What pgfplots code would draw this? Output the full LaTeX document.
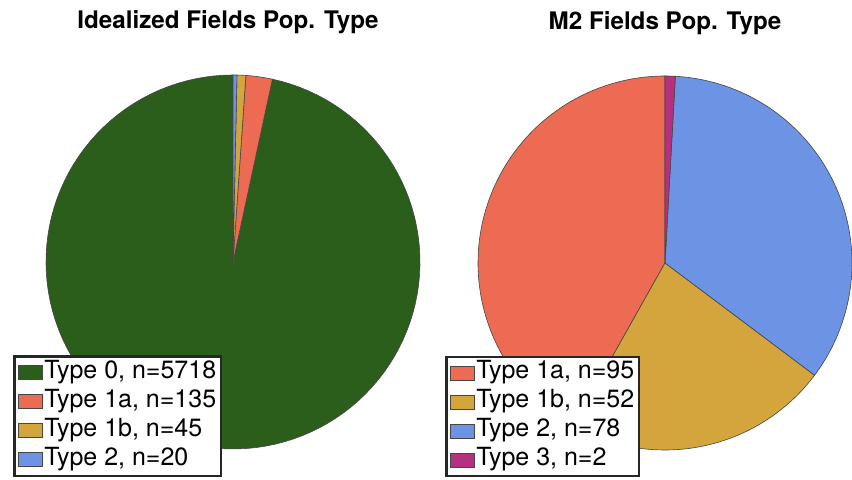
\documentclass[border=0pt]{standalone}
\usepackage{fontspec}
\setmainfont{TeX Gyre Heros}
\usepackage{pgfplots}
\pgfplotsset{compat=1.18}

\definecolor{ctype0}{RGB}{43,94,27}
\definecolor{ctype1a}{RGB}{236,107,82}
\definecolor{ctype1b}{RGB}{212,165,60}
\definecolor{ctype2}{RGB}{108,147,228}
\definecolor{ctype3}{RGB}{181,49,127}
\definecolor{edgec}{RGB}{70,70,70}

% running sum over the slices of one pie, counter-clockwise from 12 o'clock
\newcommand\piebegin[1]{\pgfmathsetmacro\tot{#1}\xdef\pietotal{\tot}\xdef\piecum{0}}
\newcommand\pieslice[3]{% count, colour, legend text
  \pgfmathsetmacro\sa{90+360*(\piecum/\pietotal)}%
  \pgfmathsetmacro\newcum{\piecum+#1}\xdef\piecum{\newcum}%
  \pgfmathsetmacro\ea{90+360*(\piecum/\pietotal)}%
  \edef\doslice{\noexpand\addplot[fill=#2, draw=edgec, line width=0.3pt,
    domain=\sa:\ea, samples=120, variable=\noexpand\t]
    ({cos(\noexpand\t)},{sin(\noexpand\t)}) -- (axis cs:0,0) -- cycle;}%
  \doslice
  \addlegendentry{#3}%
}
\newcommand\pietitle[2]{% xshift, text
  \node[anchor=base, font=\bfseries\fontsize{12.1}{15}\selectfont,
    xshift=#1, yshift=23pt] at (rel axis cs:0.5,1) {#2};}

\pgfplotsset{pie/.style={
  hide axis, scale only axis, width=187pt, height=187pt,
  xmin=-1, xmax=1, ymin=-1, ymax=1, clip=false, anchor=center,
  legend style={font=\fontsize{12.5}{14}\selectfont, draw=black!85,
    line width=1.2pt, anchor=south west, legend cell align=left,
    inner xsep=1.5pt, inner ysep=0.8pt, row sep=0pt,
    nodes={inner sep=1pt, text height=9pt, text depth=3.5pt}},
  legend image code/.code={\draw[##1] (0pt,-3.5pt) rectangle (12pt,3.5pt);},
}}

\begin{document}
\begin{tikzpicture}
\useasboundingbox (0,0) rectangle (426pt,240pt);

\begin{axis}[pie, at={(116.5pt,109pt)},
  legend style={at={(-0.087,-0.075)}}]
\piebegin{5718+135+45+20}
\pieslice{5718}{ctype0}{Type 0, n=5718}
\pieslice{135}{ctype1a}{Type 1a, n=135}
\pieslice{45}{ctype1b}{Type 1b, n=45}
\pieslice{20}{ctype2}{Type 2, n=20}
\pietitle{-2.5pt}{Idealized Fields Pop. Type}
\end{axis}

\begin{axis}[pie, at={(332.5pt,108.5pt)},
  legend style={at={(-0.087,-0.073)}}]
\piebegin{95+52+78+2}
\pieslice{95}{ctype1a}{Type 1a, n=95}
\pieslice{52}{ctype1b}{Type 1b, n=52}
\pieslice{78}{ctype2}{Type 2, n=78}
\pieslice{2}{ctype3}{Type 3, n=2}
\pietitle{0pt}{M2 Fields Pop. Type}
\end{axis}
\end{tikzpicture}
\end{document}
